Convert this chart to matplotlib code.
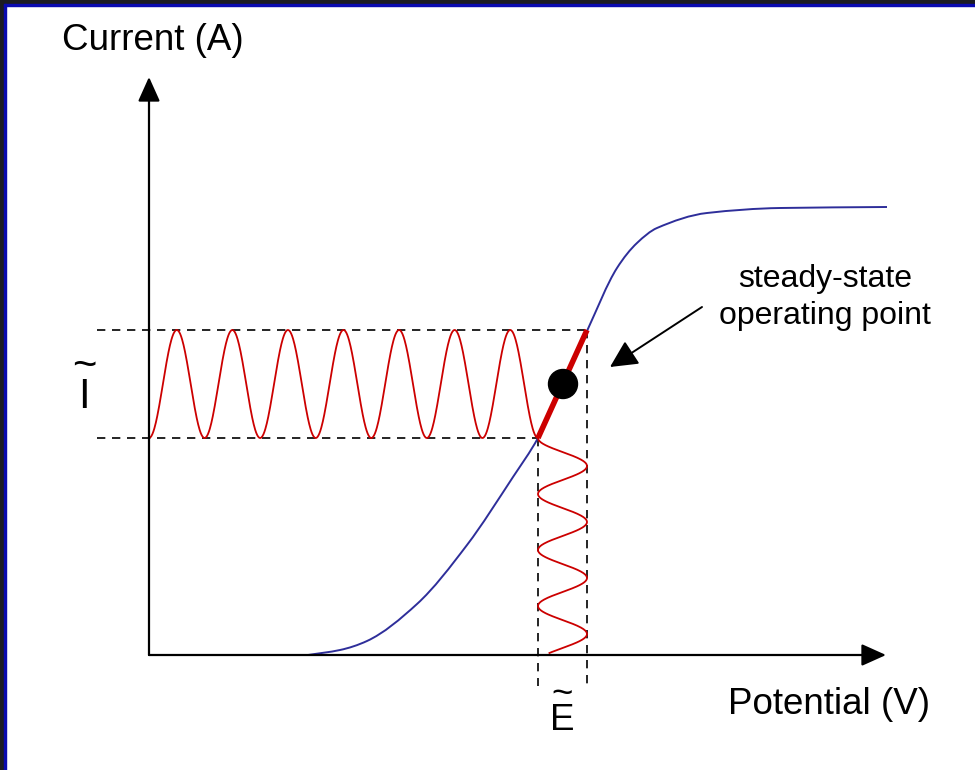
"""Small-signal AC perturbation sketch on a steady-state I-V curve."""

import matplotlib.pyplot as plt
import numpy as np
from matplotlib.patches import Circle, FancyArrowPatch, PathPatch, Rectangle
from matplotlib.path import Path

plt.rcParams["font.family"] = ["Liberation Sans", "DejaVu Sans"]

# canvas in pixel units (y grows downward)
W, H = 975, 770

# polarisation curve
curve_x = [308, 340, 367, 417, 467, 513, 538, 563, 587, 617, 637, 657, 707, 780, 887]
curve_y = [655, 650, 641, 604, 545, 477, 438, 384, 331, 268, 243, 228, 213, 208, 207]

# axes
origin = (149, 655)
y_axis_top = 77
x_axis_right = 886

# perturbation window
i_low, i_high = 438, 330
e_low, e_high = 538, 587
op_point = (563, 384)

# sine waves
current_cycles = 7
current_start, current_end = 149, 538
potential_period = 56
potential_end = 653

RED = "#cc0000"
BLUE = "#2e2e9a"
DASH = (0, (5, 4))


def smooth_path(xs, ys):
    """Monotone cubic (PCHIP-style slopes) through the read points, as Bezier segments."""
    x = np.asarray(xs, dtype=float)
    y = np.asarray(ys, dtype=float)
    h = np.diff(x)
    d = np.diff(y) / h
    m = np.empty_like(x)
    m[0], m[-1] = d[0], d[-1]
    for i in range(1, len(x) - 1):
        if d[i - 1] * d[i] <= 0:
            m[i] = 0.0
        else:
            m[i] = 2 / (1 / d[i - 1] + 1 / d[i])
    verts = [(x[0], y[0])]
    codes = [Path.MOVETO]
    for i in range(len(h)):
        verts += [(x[i] + h[i] / 3, y[i] + m[i] * h[i] / 3),
                  (x[i + 1] - h[i] / 3, y[i + 1] - m[i + 1] * h[i] / 3),
                  (x[i + 1], y[i + 1])]
        codes += [Path.CURVE4] * 3
    return Path(verts, codes)


fig = plt.figure(figsize=(W / 100, H / 100), dpi=100)
ax = fig.add_axes([0, 0, 1, 1])
ax.set_xlim(0, W)
ax.set_ylim(H, 0)
ax.axis("off")

# frame on the left and top edges
fig.patches.append(Rectangle((0, 0), 4 / W, 1, transform=fig.transFigure, color="#1c1c22", zorder=0))
fig.patches.append(Rectangle((0, 1 - 4 / H), 1, 4 / H, transform=fig.transFigure, color="#1c1c22", zorder=0))
fig.patches.append(Rectangle((4 / W, 0), 2 / W, 1 - 4 / H, transform=fig.transFigure, color="#0a0ab0", zorder=0))
fig.patches.append(Rectangle((4 / W, 1 - 6 / H), 1 - 4 / W, 2 / H, transform=fig.transFigure, color="#0a0ab0", zorder=0))

# axis arrows
for tip in [(origin[0], y_axis_top), (x_axis_right, origin[1])]:
    ax.add_patch(FancyArrowPatch(origin, tip, arrowstyle="-|>,head_length=1.0,head_width=0.45",
                                 mutation_scale=15, lw=1.6, color="black", shrinkA=0, shrinkB=0,
                                 zorder=3))

# dashed guides
ax.plot([97, e_high], [i_high, i_high], color="black", lw=1.2, ls=DASH)
ax.plot([97, e_low], [i_low, i_low], color="black", lw=1.2, ls=DASH)
ax.plot([e_low, e_low], [i_low, 686], color="black", lw=1.2, ls=DASH)
ax.plot([e_high, e_high], [i_high, 688], color="black", lw=1.2, ls=DASH)

# blue steady-state curve
ax.add_patch(PathPatch(smooth_path(curve_x, curve_y), fill=False, edgecolor=BLUE, lw=1.4, zorder=2))

# current response along the current axis
t = np.linspace(0, 1, 800)
xs = current_start + t * (current_end - current_start)
ys = i_low + (i_high - i_low) * 0.5 * (1 - np.cos(2 * np.pi * current_cycles * t))
ax.plot(xs, ys, color=RED, lw=1.3, zorder=2)

# potential perturbation along the potential axis
yy = np.linspace(i_low, potential_end, 600)
xx = e_low + (e_high - e_low) * 0.5 * (1 - np.cos(2 * np.pi * (yy - i_low) / potential_period))
ax.plot(xx, yy, color=RED, lw=1.3, zorder=2)

# linear segment and operating point
ax.plot([e_low, e_high], [i_low, i_high], color=RED, lw=4, solid_capstyle="butt", zorder=3)
ax.add_patch(Circle(op_point, 14.5, color="black", zorder=4))

# annotation arrow
ax.add_patch(FancyArrowPatch((702, 307), (610, 367), arrowstyle="-|>,head_length=1.2,head_width=0.6",
                             mutation_scale=14, lw=1.4, color="black", shrinkA=0, shrinkB=0))

# labels
ax.text(153, 40, "Current (A)", fontsize=26.5, ha="center", va="center")
ax.text(829, 705, "Potential (V)", fontsize=26.5, ha="center", va="center")
ax.text(825, 279, "steady-state", fontsize=23, ha="center", va="center")
ax.text(825, 316, "operating point", fontsize=23, ha="center", va="center")
ax.text(84, 408, "~\nI", fontsize=30, ha="center", va="baseline", linespacing=0.68,
        multialignment="center")
ax.text(562, 730, "~\nE", fontsize=26.5, ha="center", va="baseline", linespacing=0.68,
        multialignment="center")

fig.savefig("out.png", dpi=100)
